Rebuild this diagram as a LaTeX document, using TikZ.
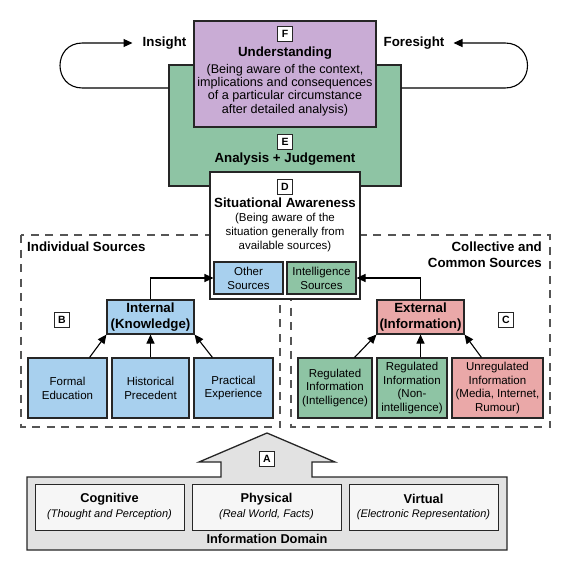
\documentclass[tikz,border=0pt]{standalone}
\usepackage{fontspec}
\setmainfont{Liberation Sans}
\usetikzlibrary{arrows.meta,calc}
\definecolor{fpurple}{RGB}{201,172,213}
\definecolor{egreen}{RGB}{142,196,164}
\definecolor{sblue}{RGB}{168,208,238}
\definecolor{spink}{RGB}{234,168,168}
\definecolor{dgrey}{RGB}{226,226,226}
\definecolor{lgrey}{RGB}{246,246,246}
\definecolor{dashgrey}{RGB}{85,85,85}
\newcommand{\fsTitle}{\fontsize{13.3}{16}\selectfont\bfseries}
\newcommand{\fsBody}{\fontsize{12.6}{13.4}\selectfont}
\newcommand{\fsSmall}{\fontsize{11.5}{13.8}\selectfont}
\begin{document}
\begin{tikzpicture}[x=1pt,y=-1pt,
  box/.style={draw=black!85, line width=1.1pt, inner sep=0pt, align=center},
  lbl/.style={draw=black!85, fill=white, line width=0.9pt, minimum size=15pt, inner sep=0pt, font=\fontsize{10.5}{12}\selectfont\bfseries},
  txt/.style={inner sep=0pt, align=center},
  arr/.style={-{Triangle[length=9pt,width=8pt]}, line width=1.1pt},
  dbox/.style={draw=dashgrey, line width=1.1pt, dash pattern=on 8pt off 6.5pt}]
\useasboundingbox (0,0) rectangle (572,572);

% dashed source groups
\draw[dbox] (21,235) rectangle (280,427);
\draw[dbox] (291,235) rectangle (550,427);

% E, F, D
\node[box, fill=egreen, minimum width=232pt, minimum height=121pt] (E) at (285,125.5) {};
\node[box, fill=fpurple, minimum width=182pt, minimum height=106pt] (F) at (285,74) {};
\node[box, fill=white, minimum width=150pt, minimum height=127pt] (D) at (285,235.5) {};

\node[lbl] (Flbl) at (285,34) {F};
\node[txt, font=\fsTitle] (Ftitle) at (285,53) {Understanding};
\node[txt, font=\fsBody] (Fbody) at (285,90) {(Being aware of the context,\\implications and consequences\\of a particular circumstance\\after detailed analysis)};

\node[lbl] (Elbl) at (285,142) {E};
\node[txt, font=\fsTitle] (Etitle) at (285,159) {Analysis + Judgement};

\node[lbl] (Dlbl) at (285,187) {D};
\node[txt, font=\fsTitle] (Dtitle) at (285,203) {Situational Awareness};
\node[txt, font=\fsSmall] (Dbody) at (285,232.5) {(Being aware of the\\situation generally from\\available sources)};

\node[box, fill=sblue, minimum width=69pt, minimum height=32pt, font=\fsSmall] (other) at (248.5,278) {Other\\Sources};
\node[box, fill=egreen, minimum width=69pt, minimum height=32pt, font=\fsSmall] (intel) at (321.5,278) {Intelligence\\Sources};

% loops
\node[txt, font=\fsTitle] (insight) at (164.5,43) {Insight};
\node[txt, font=\fsTitle] (foresight) at (414,43) {Foresight};
\coordinate (lstart) at (E.west |- 0,88);
\coordinate (rstart) at (E.east |- 0,88);
\draw[arr] (lstart) -- (82.5,88) .. controls (52.5,88) and (52.5,43) .. (82.5,43) -- ([xshift=-10pt]insight.west);
\draw[arr] (rstart) -- (505,88) .. controls (535,88) and (535,43) .. (505,43) -- ([xshift=9pt]foresight.east);

% group labels
\node[txt, anchor=west, font=\fsTitle] (indiv) at (27,247) {Individual Sources};
\node[txt, anchor=east, align=right, font=\fsTitle] (coll) at (542,255) {Collective and\\Common Sources};
\node[lbl] (Blbl) at (62,320) {B};
\node[lbl] (Clbl) at (506,320) {C};

% internal
\node[box, fill=sblue, minimum width=87pt, minimum height=34pt, font=\fsTitle] (int) at (150.5,317) {Internal\\(Knowledge)};
\node[box, fill=sblue, minimum width=79pt, minimum height=60pt, font=\fsSmall] (formal) at (67.5,388) {Formal\\Education};
\node[box, fill=sblue, minimum width=77pt, minimum height=60pt, font=\fsSmall] (hist) at (150.5,388) {Historical\\Precedent};
\node[box, fill=sblue, minimum width=79pt, minimum height=60pt, font=\fsSmall] (prac) at (233.5,388) {Practical\\Experience};

% external
\node[box, fill=spink, minimum width=87pt, minimum height=34pt, font=\fsTitle] (ext) at (420.5,317) {External\\(Information)};
\node[box, fill=egreen, minimum width=74pt, minimum height=60pt, font=\fsSmall] (regint) at (335,388) {Regulated\\Information\\(Intelligence)};
\node[box, fill=egreen, minimum width=70pt, minimum height=60pt, font=\fsSmall] (regnon) at (412,388) {Regulated\\Information\\(Non-\\intelligence)};
\node[box, fill=spink, minimum width=91pt, minimum height=60pt, font=\fsSmall] (unreg) at (497.5,388) {Unregulated\\Information\\(Media, Internet,\\Rumour)};

% arrows
\draw[arr] (int.north) |- (other.west);
\draw[arr] (ext.north) |- (intel.east);
\draw[arr] ([xshift=-18pt]formal.north east) -- (int.south west);
\draw[arr] (hist.north) -- (int.south);
\draw[arr] ([xshift=19pt]prac.north west) -- (int.south east);
\draw[arr] ([xshift=-18pt]regint.north east) -- (ext.south west);
\draw[arr] (regnon.north -| ext.south) -- (ext.south);
\draw[arr] ([xshift=30pt]unreg.north west) -- (ext.south east);

% information domain
\draw[fill=dgrey, draw=black!85, line width=1.3pt, line join=miter]
  (27,477) -- (221,477) -- (221,462) -- (199,462) -- (267,433) -- (335,462) -- (312,462) -- (312,477)
  -- (507,477) -- (507,550) -- (27,550) -- cycle;
\node[lbl] (Albl) at (267,459) {A};
\node[box, fill=lgrey, line width=0.8pt, minimum width=149pt, minimum height=46pt] (cog) at (109.5,507) {};
\node[box, fill=lgrey, line width=0.8pt, minimum width=149pt, minimum height=46pt] (phys) at (266.5,507) {};
\node[box, fill=lgrey, line width=0.8pt, minimum width=149pt, minimum height=46pt] (virt) at (423.5,507) {};
\node[txt, font=\fontsize{12.8}{15}\selectfont\bfseries] (cogt) at ($(cog)+(0,-8)$) {Cognitive};
\node[txt, font=\fontsize{11}{13}\selectfont\itshape] (cogs) at ($(cog)+(0,8)$) {(Thought and Perception)};
\node[txt, font=\fontsize{12.8}{15}\selectfont\bfseries] (physt) at ($(phys)+(0,-8)$) {Physical};
\node[txt, font=\fontsize{11}{13}\selectfont\itshape] (physs) at ($(phys)+(0,8)$) {(Real World, Facts)};
\node[txt, font=\fontsize{12.8}{15}\selectfont\bfseries] (virtt) at ($(virt)+(0,-8)$) {Virtual};
\node[txt, font=\fontsize{11}{13}\selectfont\itshape] (virts) at ($(virt)+(0,8)$) {(Electronic Representation)};
\node[txt, font=\fontsize{12.8}{15}\selectfont\bfseries] (domain) at (267,539) {Information Domain};
\end{tikzpicture}
\end{document}
